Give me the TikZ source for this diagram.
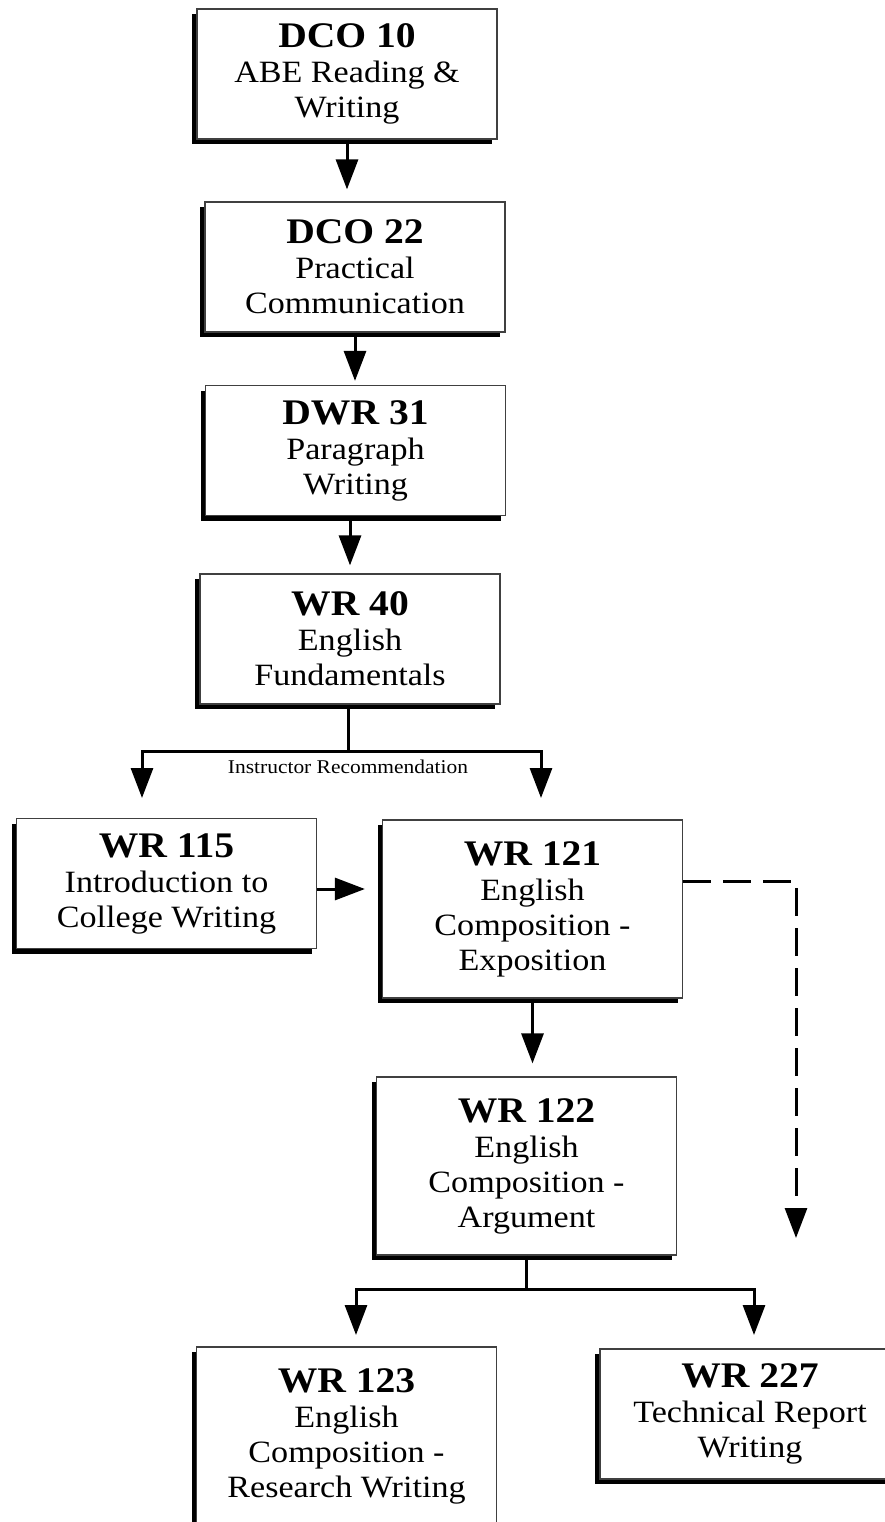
\documentclass[tikz,border=0pt]{standalone}
\usepackage{fontspec}
\setmainfont{Liberation Serif}[FakeStretch=1.1]
\usepackage{tikz}
\usetikzlibrary{arrows.meta,shadows}

\newcommand{\coursecode}[1]{{\bfseries\fontsize{36}{36}\selectfont #1}}

\begin{document}
\begin{tikzpicture}[x=1pt,y=1pt,
    >={Triangle[length=30pt,width=22pt]},
    course/.style={
% The shape:
rectangle, fill=white,
% The size:
minimum width=300pt,
minimum height=130pt,
inner sep=0pt,
% The border:
draw=black!75, line width=1.2pt,
% The shadow:
drop shadow={shadow xshift=-5pt, shadow yshift=-5pt, fill=black, opacity=1},
% The text:
align=center, font=\fontsize{31}{35}\selectfont,
},
    tall/.style={minimum height=178pt},
    link/.style={line width=3pt},
    maybe/.style={line width=3pt, dash pattern=on 28pt off 12pt},
]
  \path[use as bounding box, clip] (0,0) rectangle (885,-1522);

  \node[course] (dco10) at (347,-74) {\coursecode{DCO 10}\\ABE Reading \&\\Writing};
  \node[course] (dco22) at (355,-267) {\coursecode{DCO 22}\\Practical\\Communication};
  \node[course] (dwr31) at (355.5,-450.5) {\coursecode{DWR 31}\\Paragraph\\Writing};
  \node[course] (wr40) at (350,-639) {\coursecode{WR 40}\\English\\Fundamentals};
  \node[course] (wr115) at (166.5,-883.5) {\coursecode{WR 115}\\Introduction to\\College Writing};
  \node[course,tall] (wr121) at (532.5,-909) {\coursecode{WR 121}\\English\\Composition -\\Exposition};
  \node[course,tall] (wr122) at (526.5,-1166) {\coursecode{WR 122}\\English\\Composition -\\Argument};
  \node[course,tall] (wr123) at (346.5,-1436) {\coursecode{WR 123}\\English\\Composition -\\Research Writing};
  \node[course] (wr227) at (750,-1414) {\coursecode{WR 227}\\Technical Report\\Writing};
  \node[font=\fontsize{19.5}{22}\selectfont] (advice) at (348,-767) {Instructor Recommendation};

  \coordinate (fork40) at (348,-751);
  \coordinate (to115) at (142,-798);
  \coordinate (to121) at (541,-798);
  \coordinate (skip227) at (796,-1238);
  \coordinate (fork122) at (526,-1289);
  \coordinate (to123) at (356,-1335);
  \coordinate (to227) at (754,-1335);

  \draw[link,->,shorten >=12pt] (dco10.south) -- (dco10.south |- dco22.north);
  \draw[link,->,shorten >=4pt] (dco22.south) -- (dco22.south |- dwr31.north);
  \draw[link,->,shorten >=8pt] (wr40.north |- dwr31.south) -- (wr40.north);
  \draw[link] (fork40 |- wr40.south) -- (fork40);
  \draw[link,->] (fork40) -| (to115);
  \draw[link,->] (fork40) -| (to121);
  \draw[link,->,shorten >=17pt] ([yshift=-5.5pt]wr115.east) -- ([yshift=-5.5pt]wr115.east -| wr121.west);
  \draw[maybe,->] ([yshift=28pt]wr121.east) -| (skip227);
  \draw[link,->,shorten >=13pt] (wr121.south) -- (wr121.south |- wr122.north);
  \draw[link] (fork122 |- wr122.south) -- (fork122);
  \draw[link,->] (fork122) -| (to123);
  \draw[link,->] (fork122) -| (to227);

\end{tikzpicture}
\end{document}
